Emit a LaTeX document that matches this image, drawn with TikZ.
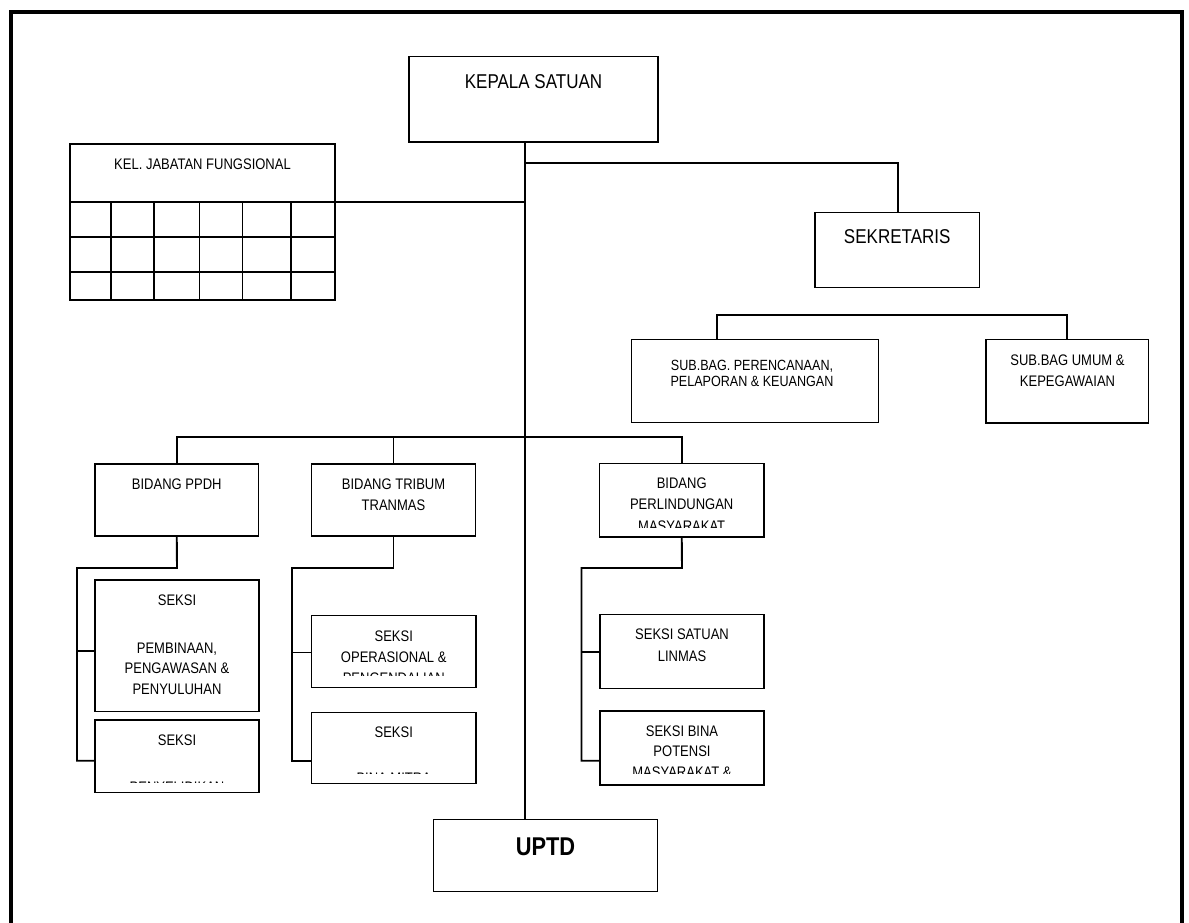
\documentclass[tikz,border=0pt]{standalone}
\usepackage{fontspec}
\setmainfont{Liberation Sans}[FakeStretch=0.85]
\begin{document}
\begin{tikzpicture}[x=1pt,y=-1pt,
  bx/.style={draw, line width=1.9pt, inner sep=0pt, outer sep=0pt, shape=rectangle},
  ln/.style={line width=1.9pt},
  tx/.style={anchor=base, inner sep=0pt, font=\fontsize{15.3}{18}\selectfont},
  tsub/.style={anchor=base, inner sep=0pt, font=\fontsize{14.8}{17}\selectfont},
  tbig/.style={anchor=base, inner sep=0pt, font=\fontsize{20}{24}\selectfont},
  tbold/.style={anchor=base, inner sep=0pt, font=\fontsize{25.7}{30}\selectfont\bfseries}]
\useasboundingbox (0,0) rectangle (1189,923);
% frame (no bottom edge)
\draw[line width=4pt] (11,923) -- (11,12) -- (1182,12) -- (1182,923);

% boxes
\node[bx, minimum width=249pt, minimum height=85.5pt] (kepala) at (533.5,99.25) {};
\node[bx, minimum width=265pt, minimum height=58pt] (kel) at (202.5,173) {};
\node[bx, minimum width=265pt, minimum height=98pt] (grid) at (202.5,251) {};
\node[bx, minimum width=164.5pt, minimum height=75pt] (sekre) at (897.25,250) {};
\node[bx, minimum width=247pt, minimum height=83pt] (subA) at (755,381) {};
\node[bx, minimum width=162.5pt, minimum height=83.5pt] (subB) at (1067.25,381.25) {};
\node[bx, minimum width=163.5pt, minimum height=72pt] (ppdh) at (176.75,500) {};
\node[bx, minimum width=164pt, minimum height=72pt] (tribum) at (393.5,500) {};
\node[bx, minimum width=164.5pt, minimum height=73.5pt] (perlind) at (681.75,500.25) {};
\node[bx, minimum width=164pt, minimum height=131.5pt] (sk1) at (177,645.75) {};
\node[bx, minimum width=164pt, minimum height=72.5pt] (sk2) at (177,756.25) {};
\node[bx, minimum width=164.5pt, minimum height=72pt] (sk3) at (393.75,651.5) {};
\node[bx, minimum width=164.5pt, minimum height=71pt] (sk4) at (393.75,748) {};
\node[bx, minimum width=164pt, minimum height=74pt] (sk5) at (682,651.5) {};
\node[bx, minimum width=164pt, minimum height=74pt] (sk6) at (682,748) {};
\node[bx, minimum width=224pt, minimum height=72pt] (uptd) at (545.5,855.5) {};

% grid inner lines
\foreach \yy in {237,272} \draw[ln] (70,\yy) -- (335,\yy);
\foreach \xx in {111,154,199.5,242.5,291} \draw[ln] (\xx,202) -- (\xx,300);

% junction coordinates
\coordinate (tr) at (525,0);
\coordinate (jS) at (898,163);
\coordinate (jSub) at (717,315);
\coordinate (jBus) at (176.75,437.3);
\coordinate (pA) at (177,568);
\coordinate (pB) at (77,568);
\coordinate (qA) at (393.5,568);
\coordinate (qB) at (292,568);
\coordinate (rA) at (682,568);
\coordinate (rB) at (581.5,568);

% connectors
\draw[ln] (kepala.south -| tr) -- (uptd.north -| tr);
\draw[ln] (jS -| tr) -- (jS) -- (sekre.north -| jS);
\draw[ln] (grid.north east) -- (grid.north east -| tr);
\draw[ln] (jSub |- subA.north) -- (jSub) -- (jSub -| subB.north) -- (subB.north);
\draw[ln] (ppdh.north) -- (jBus) -- (jBus -| perlind.north) -- (perlind.north);
\draw[ln] (jBus -| tribum.north) -- (tribum.north);
% PPDH branch
\draw[ln] (ppdh.south) -- (pA) -- (pB) -- (77,760.7) -- (sk2.west |- 0,760.7);
\draw[ln] (77,651.3) -- (sk1.west |- 0,651.3);
% TRIBUM branch
\draw[ln] (tribum.south) -- (qA) -- (qB) -- (292,760.7) -- (sk4.west |- 0,760.7);
\draw[ln] (292,652.5) -- (sk3.west |- 0,652.5);
% PERLINDUNGAN branch
\draw[ln] (perlind.south) -- (rA) -- (rB) -- (581.5,760.7) -- (sk6.west |- 0,760.7);
\draw[ln] (581.5,651.7) -- (sk5.west |- 0,651.7);

% texts
\node[tbig] (tKep) at (533.5,88.9) {KEPALA SATUAN};
\node[tx] (tKel) at (202.5,169) {KEL. JABATAN FUNGSIONAL};
\node[tbig] (tSek) at (897.2,243.5) {SEKRETARIS};
\node[tsub] (tA1) at (752,370.3) {SUB.BAG. PERENCANAAN,};
\node[tsub] (tA2) at (752,386.8) {PELAPORAN \& KEUANGAN};
\node[tx] (tB1) at (1067.5,365.5) {SUB.BAG UMUM \&};
\node[tx] (tB2) at (1067.5,386.2) {KEPEGAWAIAN};
\node[tx] (tP1) at (176.75,489.8) {BIDANG PPDH};
\node[tx] (tT1) at (393.5,489.8) {BIDANG TRIBUM};
\node[tx] (tT2) at (393.5,510.5) {TRANMAS};
\node[tx] (tL1) at (681.7,488.8) {BIDANG};
\node[tx] (tL2) at (681.7,509.5) {PERLINDUNGAN};
\begin{scope}
  \clip (600,520) rectangle (763,527.3);
  \node[tx] (tL3) at (681.7,531.5) {MASYARAKAT};
\end{scope}
\node[tx] (s1a) at (177,605.5) {SEKSI};
\node[tx] (s1b) at (177,653.8) {PEMBINAAN,};
\node[tx] (s1c) at (177,673.8) {PENGAWASAN \&};
\node[tx] (s1d) at (177,694.8) {PENYULUHAN};
\node[tx] (s2a) at (177,745.5) {SEKSI};
\begin{scope}
  \clip (96,770) rectangle (258,782);
  \node[tx] (s2b) at (177,792.6) {PENYELIDIKAN};
\end{scope}
\node[tx] (s3a) at (393.75,641.2) {SEKSI};
\node[tx] (s3b) at (393.75,662.2) {OPERASIONAL \&};
\begin{scope}
  \clip (313,665) rectangle (475,675);
  \node[tx] (s3c) at (393.75,683.2) {PENGENDALIAN};
\end{scope}
\node[tx] (s4a) at (393.75,737.2) {SEKSI};
\begin{scope}
  \clip (313,762) rectangle (475,773.3);
  \node[tx] (s4b) at (393.75,783.8) {BINA MITRA};
\end{scope}
\node[tx] (s5a) at (682,639.8) {SEKSI SATUAN};
\node[tx] (s5b) at (682,661.2) {LINMAS};
\node[tx] (s6a) at (682,736.5) {SEKSI BINA};
\node[tx] (s6b) at (682,756.5) {POTENSI};
\begin{scope}
  \clip (601,762) rectangle (763,773.3);
  \node[tx] (s6c) at (682,777.5) {MASYARAKAT \&};
\end{scope}
\node[tbold] (tU) at (545.5,855.2) {UPTD};
\end{tikzpicture}
\end{document}
